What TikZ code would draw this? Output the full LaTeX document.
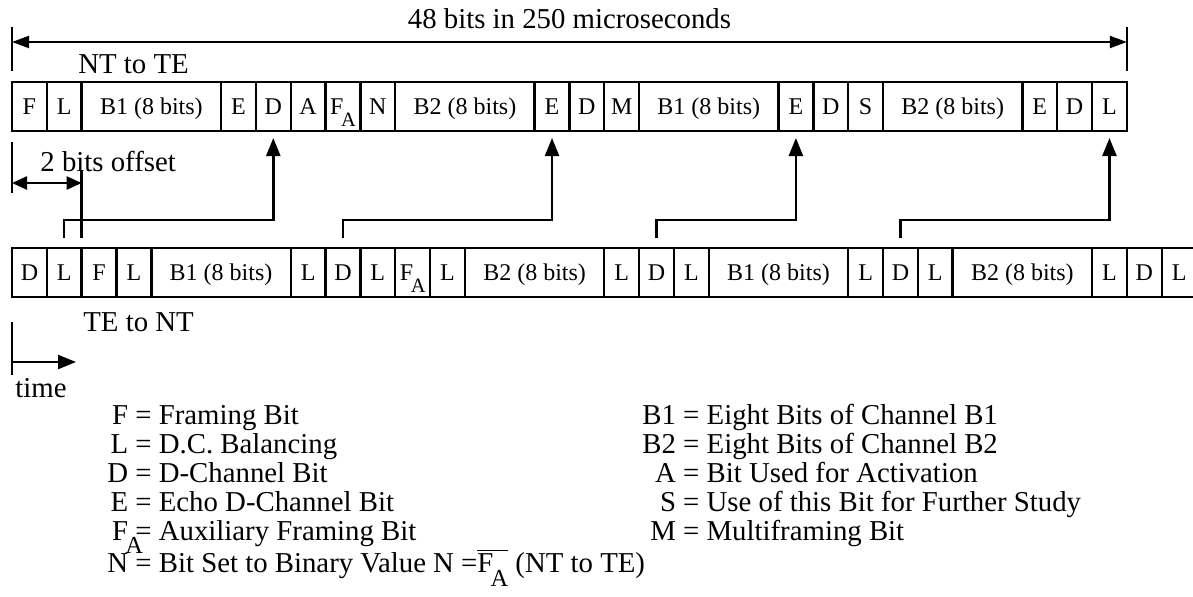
\documentclass[tikz,border=0pt]{standalone}
\usepackage{fontspec}
\setmainfont{Liberation Serif}
\usepackage{graphicx}
\usetikzlibrary{positioning,arrows.meta}

\newcommand{\lblfont}{\fontsize{14.4pt}{17pt}\selectfont}
\newcommand{\keyfont}{\fontsize{14.4pt}{14.5pt}\selectfont}
\newcommand{\bitfont}{\fontsize{12pt}{14pt}\selectfont}
\newcommand{\fsub}{F\kern-0.1em\raisebox{-0.5em}[0pt][0pt]{\scalebox{0.85}{A}}}
\newcommand{\fkey}{F\rlap{\kern-0.1em\raisebox{-0.45em}[0pt][0pt]{\scalebox{0.85}{A}}}}

\begin{document}
\begin{tikzpicture}[
        bit/.style={rectangle, draw, line width=1.2pt, outer sep=0pt, inner sep=0pt,
            minimum width=17.42pt, minimum height=24.5pt, text height=8pt, text depth=0pt, font=\bitfont},
        byte/.style={bit, minimum width=69.68pt},
        arr/.style={-{Triangle[length=9pt, width=7pt]}, line width=1.2pt},
        dim/.style={{Triangle[length=8.5pt, width=6pt]}-{Triangle[length=8.5pt, width=6pt]}, line width=1pt},
        offarr/.style={{Triangle[length=7.5pt, width=6.5pt]}-{Triangle[length=7.5pt, width=6.5pt]}, line width=1.2pt},
        tarr/.style={-{Triangle[length=9pt, width=7pt]}, line width=1.2pt},
        bar/.style={line width=1pt},
        lbl/.style={font=\lblfont, inner sep=0pt},
        keys/.style={font=\keyfont, inner sep=0pt, anchor=north west},
    ]
    \useasboundingbox (0,0) rectangle (596.5pt,-298pt);

    % NT to TE frame
    \node[bit, anchor=north west] (tF) at (6pt,-41pt) {F};
    \node[bit, right=0pt of tF] (tL) {L};
    \node[byte, right=0pt of tL] (tB1) {B1 (8 bits)};
    \node[bit, right=0pt of tB1] (tE) {E};
    \node[bit, right=0pt of tE] (tD) {D};
    \node[bit, right=0pt of tD] (tA) {A};
    \node[bit, right=0pt of tA] (tFA) {\fsub};
    \node[bit, right=0pt of tFA] (tN) {N};
    \node[byte, right=0pt of tN] (tB2) {B2 (8 bits)};
    \node[bit, right=0pt of tB2] (tE2) {E};
    \node[bit, right=0pt of tE2] (tD2) {D};
    \node[bit, right=0pt of tD2] (tM) {M};
    \node[byte, right=0pt of tM] (tB3) {B1 (8 bits)};
    \node[bit, right=0pt of tB3] (tE3) {E};
    \node[bit, right=0pt of tE3] (tD3) {D};
    \node[bit, right=0pt of tD3] (tS) {S};
    \node[byte, right=0pt of tS] (tB4) {B2 (8 bits)};
    \node[bit, right=0pt of tB4] (tE4) {E};
    \node[bit, right=0pt of tE4] (tD4) {D};
    \node[bit, right=0pt of tD4] (tL2) {L};
    \node[lbl, anchor=south west] (nt) at ([xshift=33pt, yshift=3.75pt]tF.north west) {NT to TE};

    % 48 bit span
    \draw[bar] ([yshift=5.5pt]tF.north west) -- ++(0,22pt);
    \draw[bar] ([yshift=5.5pt]tL2.north east) -- ++(0,22pt);
    \draw[dim] ([yshift=20pt]tF.north west) -- node[lbl, above=6pt] (span) {48 bits in 250 microseconds} ([yshift=20pt]tL2.north east);

    % TE to NT frame, 2 bits later
    \node[bit, anchor=north west] (bD) at ([yshift=-58.5pt]tF.south west) {D};
    \node[bit, right=0pt of bD] (bL) {L};
    \node[bit, right=0pt of bL] (bF) {F};
    \node[bit, right=0pt of bF] (bL2) {L};
    \node[byte, right=0pt of bL2] (bB1) {B1 (8 bits)};
    \node[bit, right=0pt of bB1] (bL3) {L};
    \node[bit, right=0pt of bL3] (bD2) {D};
    \node[bit, right=0pt of bD2] (bL4) {L};
    \node[bit, right=0pt of bL4] (bFA) {\fsub};
    \node[bit, right=0pt of bFA] (bL5) {L};
    \node[byte, right=0pt of bL5] (bB2) {B2 (8 bits)};
    \node[bit, right=0pt of bB2] (bL6) {L};
    \node[bit, right=0pt of bL6] (bD3) {D};
    \node[bit, right=0pt of bD3] (bL7) {L};
    \node[byte, right=0pt of bL7] (bB3) {B1 (8 bits)};
    \node[bit, right=0pt of bB3] (bL8) {L};
    \node[bit, right=0pt of bL8] (bD4) {D};
    \node[bit, right=0pt of bD4] (bL9) {L};
    \node[byte, right=0pt of bL9] (bB4) {B2 (8 bits)};
    \node[bit, right=0pt of bB4] (bL10) {L};
    \node[bit, right=0pt of bL10] (bD5) {D};
    \node[bit, right=0pt of bD5] (bL11) {L};
    \node[lbl, anchor=south west] (te) at ([xshift=35.5pt, yshift=-17.75pt]bD.south west) {TE to NT};

    % echo of D bits
    \draw[arr] ([yshift=5pt]bL.north) -- ++(0,9pt) -| ([yshift=-3.5pt]tD.south);
    \draw[arr] ([yshift=5pt]bD2.north) -- ++(0,9pt) -| ([yshift=-3.5pt]tE2.south);
    \draw[arr] ([yshift=5pt]bD3.north) -- ++(0,9pt) -| ([yshift=-3.5pt]tE3.south);
    \draw[arr] ([yshift=5pt]bD4.north) -- ++(0,9pt) -| ([yshift=-3.5pt]tL2.south);

    % offset marker
    \draw[bar] ([yshift=-5.5pt]tF.south west) -- ++(0,-25.5pt);
    \draw[line width=1.2pt] ([yshift=5pt]bF.north west) -- ++(0,34pt);
    \coordinate (offL) at ([yshift=-26pt]tF.south west);
    \coordinate (offR) at (offL -| bF.west);
    \draw[offarr] (offL) -- (offR);
    \node[lbl, anchor=south west] (offset) at ([xshift=14pt, yshift=5.5pt]offL) {2 bits offset};

    % time axis
    \draw[bar] ([yshift=-12.5pt]bD.south west) -- ++(0,-26.5pt);
    \coordinate (t0) at ([yshift=-32.5pt]bD.south west);
    \coordinate (t1) at ([xshift=32pt]t0);
    \draw[tarr] (t0) -- (t1);
    \node[lbl, anchor=south west] (time) at ([xshift=1.5pt, yshift=-18pt]t0) {time};

    % key
    \node[keys] (keyl) at (53.5pt,-202.1pt) {\begin{tabular}{@{}r@{\ =\ }l@{}}
        F & Framing Bit\\
        L & D.C. Balancing\\
        D & D-Channel Bit\\
        E & Echo D-Channel Bit\\
        \fkey & Auxiliary Framing Bit\\
        N & Bit Set to Binary Value N =$\overline{\hbox{\fsub}}$ (NT to TE)
    \end{tabular}};
    \node[keys] (keyr) at (321pt,-202.1pt) {\begin{tabular}{@{}r@{\ =\ }l@{}}
        B1 & Eight Bits of Channel B1\\
        B2 & Eight Bits of Channel B2\\
        A & Bit Used for Activation\\
        S & Use of this Bit for Further Study\\
        M & Multiframing Bit
    \end{tabular}};

\end{tikzpicture}
\end{document}
